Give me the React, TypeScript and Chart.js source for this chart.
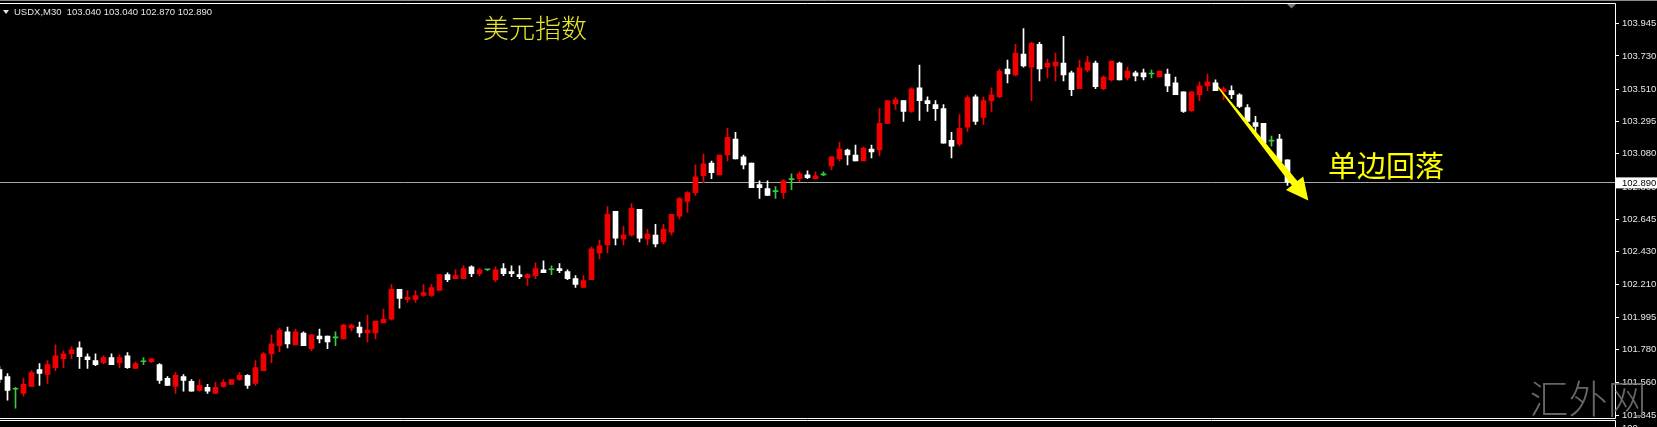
import { useEffect, useRef } from 'react';
import { Chart, registerables } from 'chart.js';

Chart.register(...registerables);

const symbolName = 'USDX,M30';
const titleText = '美元指数';
const noteText = '单边回落';
const watermarkText = '汇外网';

const opens = [
  101.647, 101.601, 101.516, 101.489, 101.535, 101.647, 101.614, 101.660, 101.719, 101.752,
  101.791, 101.732, 101.706, 101.693, 101.726, 101.693, 101.739, 101.654, 101.699, 101.699,
  101.680, 101.588, 101.535, 101.601, 101.568, 101.509, 101.529, 101.489, 101.535, 101.549,
  101.581, 101.608, 101.555, 101.640, 101.752, 101.805, 101.897, 101.811, 101.890, 101.785,
  101.870, 101.870, 101.857, 101.851, 101.923, 101.929, 101.890, 101.890, 101.956, 101.982,
  102.179, 102.113, 102.113, 102.139, 102.139, 102.172, 102.277, 102.251, 102.251, 102.330,
  102.284, 102.310, 102.244, 102.317, 102.297, 102.277, 102.258, 102.271, 102.310, 102.310,
  102.317, 102.297, 102.251, 102.192, 102.244, 102.422, 102.474, 102.697, 102.514, 102.540,
  102.711, 102.514, 102.540, 102.494, 102.560, 102.665, 102.763, 102.822, 102.934, 103.019,
  102.940, 103.072, 103.177, 103.059, 103.019, 102.875, 102.849, 102.829, 102.822, 102.908,
  102.914, 102.940, 102.914, 102.940, 103.000, 103.046, 103.105, 103.072, 103.032, 103.111,
  103.105, 103.282, 103.413, 103.433, 103.361, 103.518, 103.433, 103.407, 103.380, 103.170,
  103.144, 103.256, 103.459, 103.321, 103.433, 103.459, 103.643, 103.604, 103.742, 103.656,
  103.807, 103.656, 103.663, 103.682, 103.617, 103.512, 103.636, 103.682, 103.512, 103.571,
  103.682, 103.584, 103.617, 103.617, 103.610, 103.590, 103.610, 103.551, 103.492, 103.367,
  103.472, 103.531, 103.551, 103.492, 103.499, 103.472, 103.387, 103.288, 103.282, 103.164,
  103.177, 103.040,
];
const highs = [
  101.667, 101.621, 101.529, 101.588, 101.640, 101.686, 101.706, 101.811, 101.772, 101.798,
  101.831, 101.752, 101.752, 101.739, 101.752, 101.745, 101.759, 101.699, 101.726, 101.719,
  101.686, 101.601, 101.627, 101.614, 101.581, 101.581, 101.549, 101.562, 101.581, 101.581,
  101.627, 101.614, 101.706, 101.759, 101.877, 101.923, 101.929, 101.916, 101.897, 101.883,
  101.916, 101.870, 101.897, 101.949, 101.949, 101.962, 102.008, 101.969, 102.048, 102.212,
  102.179, 102.172, 102.172, 102.212, 102.212, 102.277, 102.290, 102.310, 102.336, 102.336,
  102.317, 102.310, 102.330, 102.350, 102.336, 102.336, 102.284, 102.356, 102.369, 102.336,
  102.350, 102.310, 102.271, 102.271, 102.461, 102.507, 102.730, 102.697, 102.599, 102.750,
  102.711, 102.579, 102.612, 102.612, 102.678, 102.789, 102.829, 103.006, 103.078, 103.032,
  103.072, 103.249, 103.223, 103.072, 103.019, 102.901, 102.901, 102.862, 102.908, 102.947,
  102.960, 102.967, 102.960, 102.960, 103.059, 103.157, 103.111, 103.137, 103.124, 103.137,
  103.380, 103.433, 103.453, 103.433, 103.518, 103.669, 103.459, 103.433, 103.407, 103.223,
  103.341, 103.466, 103.472, 103.459, 103.518, 103.643, 103.702, 103.807, 103.912, 103.820,
  103.820, 103.709, 103.748, 103.860, 103.630, 103.702, 103.728, 103.696, 103.597, 103.696,
  103.689, 103.656, 103.630, 103.643, 103.636, 103.630, 103.643, 103.590, 103.492, 103.492,
  103.558, 103.610, 103.571, 103.525, 103.531, 103.479, 103.407, 103.328, 103.282, 103.197,
  103.210, 103.040,
];
const lows = [
  101.562, 101.443, 101.391, 101.470, 101.535, 101.542, 101.555, 101.640, 101.660, 101.719,
  101.654, 101.654, 101.673, 101.686, 101.680, 101.660, 101.654, 101.654, 101.680, 101.693,
  101.555, 101.542, 101.489, 101.503, 101.503, 101.503, 101.489, 101.489, 101.529, 101.549,
  101.575, 101.522, 101.542, 101.640, 101.693, 101.765, 101.791, 101.811, 101.805, 101.772,
  101.824, 101.785, 101.805, 101.851, 101.903, 101.864, 101.831, 101.851, 101.956, 101.975,
  102.054, 102.093, 102.093, 102.133, 102.133, 102.172, 102.231, 102.251, 102.251, 102.264,
  102.271, 102.304, 102.231, 102.271, 102.264, 102.251, 102.205, 102.251, 102.290, 102.277,
  102.290, 102.244, 102.192, 102.192, 102.244, 102.382, 102.422, 102.474, 102.474, 102.533,
  102.494, 102.474, 102.461, 102.481, 102.540, 102.645, 102.691, 102.803, 102.888, 102.914,
  102.940, 103.032, 103.046, 102.980, 102.855, 102.783, 102.803, 102.783, 102.783, 102.842,
  102.895, 102.914, 102.914, 102.934, 102.973, 103.032, 103.006, 103.032, 103.032, 103.052,
  103.065, 103.282, 103.374, 103.295, 103.354, 103.302, 103.361, 103.302, 103.151, 103.052,
  103.131, 103.229, 103.275, 103.275, 103.361, 103.453, 103.551, 103.597, 103.656, 103.433,
  103.564, 103.584, 103.564, 103.564, 103.466, 103.512, 103.623, 103.512, 103.505, 103.564,
  103.571, 103.571, 103.564, 103.571, 103.584, 103.590, 103.492, 103.472, 103.354, 103.361,
  103.433, 103.499, 103.499, 103.440, 103.446, 103.387, 103.295, 103.229, 103.144, 103.131,
  103.019, 102.870,
];
const closes = [
  101.581, 101.509, 101.516, 101.549, 101.627, 101.621, 101.680, 101.739, 101.752, 101.778,
  101.732, 101.713, 101.680, 101.726, 101.680, 101.726, 101.660, 101.686, 101.699, 101.719,
  101.575, 101.542, 101.608, 101.575, 101.503, 101.542, 101.503, 101.529, 101.562, 101.581,
  101.608, 101.542, 101.660, 101.752, 101.818, 101.910, 101.818, 101.897, 101.805, 101.877,
  101.851, 101.831, 101.857, 101.942, 101.942, 101.890, 101.910, 101.969, 101.982, 102.179,
  102.120, 102.126, 102.139, 102.159, 102.192, 102.277, 102.244, 102.271, 102.317, 102.284,
  102.310, 102.310, 102.310, 102.284, 102.284, 102.264, 102.277, 102.317, 102.290, 102.310,
  102.304, 102.251, 102.212, 102.238, 102.448, 102.468, 102.678, 102.520, 102.540, 102.717,
  102.520, 102.546, 102.481, 102.579, 102.678, 102.783, 102.822, 102.927, 103.013, 102.954,
  103.072, 103.190, 103.046, 103.006, 102.855, 102.855, 102.803, 102.829, 102.901, 102.908,
  102.947, 102.921, 102.934, 102.940, 103.059, 103.111, 103.072, 103.032, 103.118, 103.092,
  103.282, 103.433, 103.440, 103.361, 103.512, 103.433, 103.413, 103.380, 103.151, 103.131,
  103.249, 103.453, 103.295, 103.433, 103.472, 103.630, 103.610, 103.748, 103.663, 103.814,
  103.643, 103.682, 103.689, 103.604, 103.505, 103.650, 103.689, 103.525, 103.590, 103.696,
  103.571, 103.630, 103.597, 103.590, 103.610, 103.630, 103.531, 103.472, 103.361, 103.492,
  103.531, 103.558, 103.499, 103.512, 103.472, 103.394, 103.295, 103.262, 103.151, 103.164,
  103.026, 102.890,
];

const priceTicks = [
  103.945, 103.73, 103.51, 103.295, 103.08, 102.86, 102.645, 102.43, 102.21, 101.995, 101.78, 101.56, 101.345,
];

// arrow annotation anchored in data space: [bar index, price]
const arrowFrom = [152.3, 103.525];
const arrowTo = [163.6, 102.77];

const W = 1657;
const H = 427;
const UP = '#f00000';
const DOWN = '#ffffff';
const FLAT = '#3cc83c';

export default function App() {
  const ref = useRef<HTMLCanvasElement | null>(null);

  useEffect(() => {
    document.body.style.margin = '0';
    document.body.style.background = '#000';
    const canvas = ref.current;
    if (!canvas) return;

    const colors = opens.map((o, i) => (closes[i] > o ? UP : closes[i] < o ? DOWN : FLAT));
    const bodies = opens.map((o, i) => ({ x: i, y: [o, closes[i]] }));
    const wicks = lows.map((l, i) => ({ x: i, y: [l, highs[i]] }));
    const n = opens.length;
    const lastO = opens[n - 1], lastH = highs[n - 1], lastL = lows[n - 1], lastC = closes[n - 1];

    const overlay = {
      id: 'overlay',
      beforeDraw(chart: any) {
        const ctx = chart.ctx;
        ctx.save();
        ctx.fillStyle = '#000';
        ctx.fillRect(0, 0, W, H);
        ctx.restore();
      },
      beforeDatasetsDraw(chart: any) {
        const ctx = chart.ctx;
        const y = Math.round(chart.scales.y.getPixelForValue(lastC)) + 0.5;
        ctx.save();
        ctx.strokeStyle = '#a8a8a8';
        ctx.lineWidth = 1;
        ctx.beginPath();
        ctx.moveTo(0, y);
        ctx.lineTo(chart.chartArea.right, y);
        ctx.stroke();
        ctx.restore();
      },
      afterDraw(chart: any) {
        const ctx = chart.ctx;
        const xs = chart.scales.x;
        const ys = chart.scales.y;
        const right = chart.chartArea.right;
        ctx.save();

        // frame lines
        ctx.lineWidth = 1;
        ctx.strokeStyle = '#8c8c8c';
        ctx.beginPath();
        ctx.moveTo(0, 0.5);
        ctx.lineTo(W, 0.5);
        ctx.stroke();
        ctx.strokeStyle = '#ffffff';
        ctx.beginPath();
        ctx.moveTo(0, 3.5);
        ctx.lineTo(right + 0.5, 3.5);
        ctx.lineTo(right + 0.5, 418.5);
        ctx.lineTo(0, 418.5);
        ctx.moveTo(0, 420.5);
        ctx.lineTo(right + 0.5, 420.5);
        ctx.lineTo(right + 0.5, H);
        ctx.stroke();

        // shift marker
        ctx.fillStyle = '#7a7a7a';
        ctx.beginPath();
        ctx.moveTo(1287, 4);
        ctx.lineTo(1296, 4);
        ctx.lineTo(1291.5, 8.5);
        ctx.closePath();
        ctx.fill();

        // header
        ctx.fillStyle = '#e6e6e6';
        ctx.beginPath();
        ctx.moveTo(3, 10);
        ctx.lineTo(9, 10);
        ctx.lineTo(6, 14);
        ctx.closePath();
        ctx.fill();
        ctx.font = '9.5px "Liberation Sans", Arial, sans-serif';
        ctx.textBaseline = 'middle';
        ctx.textAlign = 'left';
        ctx.fillText(
          `${symbolName}  ${lastO.toFixed(3)} ${lastH.toFixed(3)} ${lastL.toFixed(3)} ${lastC.toFixed(3)}`,
          14,
          12.5
        );

        // current price label
        const py = ys.getPixelForValue(lastC);
        ctx.fillStyle = '#ffffff';
        ctx.fillRect(right + 1, py - 5, W - right - 1, 11);
        ctx.fillStyle = '#000000';
        ctx.font = '9.5px "Liberation Sans", Arial, sans-serif';
        ctx.fillText(lastC.toFixed(3), right + 7, py + 0.5);

        // sub-window scale label (cut off)
        ctx.fillStyle = '#e6e6e6';
        ctx.fillText('100', right + 7, 428.5);

        // arrow
        const sx = xs.getPixelForValue(arrowFrom[0]);
        const sy = ys.getPixelForValue(arrowFrom[1]);
        const tx = xs.getPixelForValue(arrowTo[0]);
        const ty = ys.getPixelForValue(arrowTo[1]);
        const dx = tx - sx, dy = ty - sy;
        const len = Math.hypot(dx, dy);
        const ux = dx / len, uy = dy / len;
        const nx = -uy, ny = ux;
        const bx = tx - ux * 22, by = ty - uy * 22;
        ctx.fillStyle = '#ffff00';
        ctx.beginPath();
        ctx.moveTo(sx + nx * 0.6, sy + ny * 0.6);
        ctx.lineTo(bx + nx * 3.5, by + ny * 3.5);
        ctx.lineTo(bx + nx * 11, by + ny * 11);
        ctx.lineTo(tx, ty);
        ctx.lineTo(bx - nx * 11, by - ny * 11);
        ctx.lineTo(bx - nx * 3.5, by - ny * 3.5);
        ctx.lineTo(sx - nx * 0.6, sy - ny * 0.6);
        ctx.closePath();
        ctx.fill();

        // texts
        ctx.textAlign = 'center';
        ctx.textBaseline = 'middle';
        ctx.fillStyle = '#e8e82a';
        ctx.font = '300 26px "Noto Sans CJK SC", sans-serif';
        ctx.fillText(titleText, 535, 28);
        ctx.fillStyle = '#ffff00';
        ctx.font = '400 29px "Noto Sans CJK SC", sans-serif';
        ctx.fillText(noteText, 1386, 166);

        // watermark
        ctx.fillStyle = 'rgba(120,120,120,0.85)';
        ctx.font = '200 39px "Noto Sans CJK SC", sans-serif';
        ctx.fillText(watermarkText, 1588, 398);

        ctx.restore();
      },
    };

    const chart = new Chart(canvas, {
      type: 'bar',
      data: {
        datasets: [
          {
            label: 'body',
            data: bodies as any,
            backgroundColor: colors,
            borderWidth: 0,
            barThickness: 5,
            minBarLength: 1,
            grouped: false,
            order: 0,
          } as any,
          {
            label: 'wick',
            data: wicks as any,
            backgroundColor: colors,
            borderWidth: 0,
            barThickness: 1,
            grouped: false,
            order: 1,
          } as any,
        ],
      },
      options: {
        responsive: false,
        animation: false,
        devicePixelRatio: 1,
        events: [],
        layout: { padding: { top: 4, bottom: 9, left: 0, right: 0 } },
        plugins: { legend: { display: false }, tooltip: { enabled: false } },
        scales: {
          x: {
            type: 'linear',
            display: false,
            offset: false,
            min: 0.5 / 8,
            max: 1615.5 / 8,
          },
          y: {
            type: 'linear',
            position: 'right',
            min: 101.3253,
            max: 104.0435,
            border: { display: false },
            grid: { drawOnChartArea: false, drawTicks: true, tickLength: 4, color: '#ffffff' },
            ticks: {
              color: '#e6e6e6',
              padding: 3,
              autoSkip: false,
              font: { family: '"Liberation Sans", Arial, sans-serif', size: 9.5 },
              callback: (v: any) => Number(v).toFixed(3),
            },
            afterBuildTicks: (scale: any) => {
              scale.ticks = priceTicks.map((v) => ({ value: v }));
            },
            afterFit: (scale: any) => {
              scale.width = 42;
            },
          },
        },
      } as any,
      plugins: [overlay],
    });

    return () => chart.destroy();
  }, []);

  return (
    <div style={{ position: 'fixed', left: 0, top: 0, width: W, height: H, background: '#000' }}>
      <canvas ref={ref} width={W} height={H} style={{ display: 'block', width: W, height: H }} />
    </div>
  );
}
